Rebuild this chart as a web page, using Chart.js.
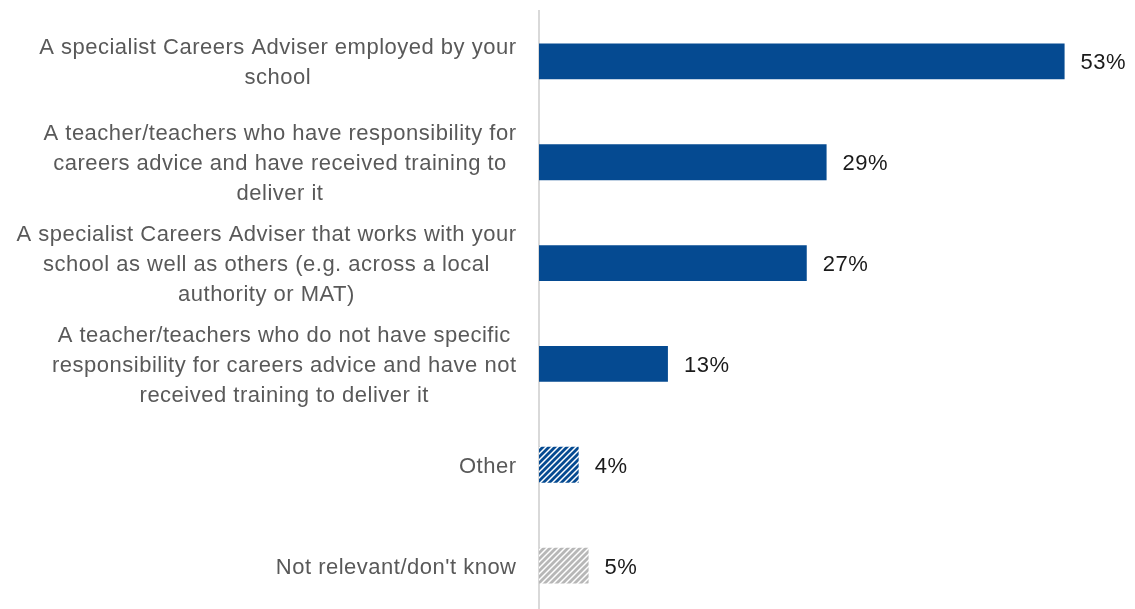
<!DOCTYPE html>
<html>
<head>
<meta charset="utf-8">
<script src="https://cdn.jsdelivr.net/npm/chart.js@4.4.1/dist/chart.umd.min.js"></script>
<style>
  html, body { margin: 0; padding: 0; background: #fff; overflow: hidden; }
  #wrap { position: relative; width: 1135px; height: 627px; }
</style>
</head>
<body>
<div id="wrap"><canvas id="chart"></canvas></div>
<script>
// Who delivers careers advice in the school
const categories = [
    ['A specialist Careers Adviser employed by your', 'school'],
    ['A teacher/teachers who have responsibility for', 'careers advice and have received training to', 'deliver it'],
    ['A specialist Careers Adviser that works with your', 'school as well as others (e.g. across a local', 'authority or MAT)'],
    ['A teacher/teachers who do not have specific', 'responsibility for careers advice and have not', 'received training to deliver it'],
    ['Other'],
    ["Not relevant/don't know"]
];
const shares = [53, 29, 27, 13, 4, 5];
const valueLabels = ['53%', '29%', '27%', '13%', '4%', '5%'];

const BLUE = '#054a91';
const GREY = '#b7b7b7';
const FONT = '"Liberation Sans", Arial, sans-serif';

// diagonal stripe fill for the smaller answers
function stripes(color) {
    const size = 6;
    const c = document.createElement('canvas');
    c.width = size;
    c.height = size;
    const g = c.getContext('2d');
    g.fillStyle = '#fff';
    g.fillRect(0, 0, size, size);
    g.strokeStyle = color;
    g.lineWidth = 2.8;
    g.beginPath();
    g.moveTo(-1, size + 1); g.lineTo(size + 1, -1);
    g.moveTo(-1, 1); g.lineTo(1, -1);
    g.moveTo(size - 1, size + 1); g.lineTo(size + 1, size - 1);
    g.stroke();
    return g.createPattern(c, 'repeat');
}

const ctx = document.getElementById('chart').getContext('2d');
const fills = [BLUE, BLUE, BLUE, BLUE, stripes(BLUE), stripes(GREY)];

// category labels: block right-aligned to the axis, lines centred in the block
const categoryText = {
    id: 'categoryText',
    afterDraw(chart) {
        const c = chart.ctx;
        const y = chart.scales.y;
        const right = 516.5;
        const lineH = 30;
        c.save();
        c.font = '22px ' + FONT;
        c.letterSpacing = '0.5px';
        c.fillStyle = '#595959';
        c.textAlign = 'center';
        c.textBaseline = 'middle';
        categories.forEach((lines, i) => {
            const w = Math.max(...lines.map(l => c.measureText(l).width));
            const cx = right - w / 2;
            const cy = y.getPixelForTick(i) + 2;
            const top = cy - (lines.length - 1) * lineH / 2;
            lines.forEach((l, k) => c.fillText(l, cx, top + k * lineH));
        });
        c.restore();
    }
};

// percentage next to each bar end
const barValues = {
    id: 'barValues',
    afterDatasetsDraw(chart) {
        const c = chart.ctx;
        const meta = chart.getDatasetMeta(0);
        c.save();
        c.font = '22px ' + FONT;
        c.letterSpacing = '0.5px';
        c.fillStyle = '#1a1a1a';
        c.textAlign = 'left';
        c.textBaseline = 'middle';
        meta.data.forEach((bar, i) => {
            c.fillText(valueLabels[i], bar.x + 16, bar.y + 2);
        });
        c.restore();
    }
};

new Chart(ctx, {
    type: 'bar',
    data: {
        labels: categories,
        datasets: [{
            data: shares,
            backgroundColor: fills,
            borderWidth: 0,
            barPercentage: 0.356,
            categoryPercentage: 1
        }]
    },
    options: {
        indexAxis: 'y',
        responsive: true,
        maintainAspectRatio: false,
        animation: false,
        layout: { padding: { top: 11, bottom: 11, left: 0, right: 1 } },
        plugins: {
            legend: { display: false },
            tooltip: { enabled: false }
        },
        scales: {
            x: {
                min: 0,
                max: 60,
                display: false
            },
            y: {
                grid: { display: false, drawTicks: false },
                border: { display: true, color: '#d9d9d9', width: 2 },
                ticks: { display: false },
                afterFit(scale) { scale.width = 539; }
            }
        }
    },
    plugins: [categoryText, barValues]
});
</script>
</body>
</html>
